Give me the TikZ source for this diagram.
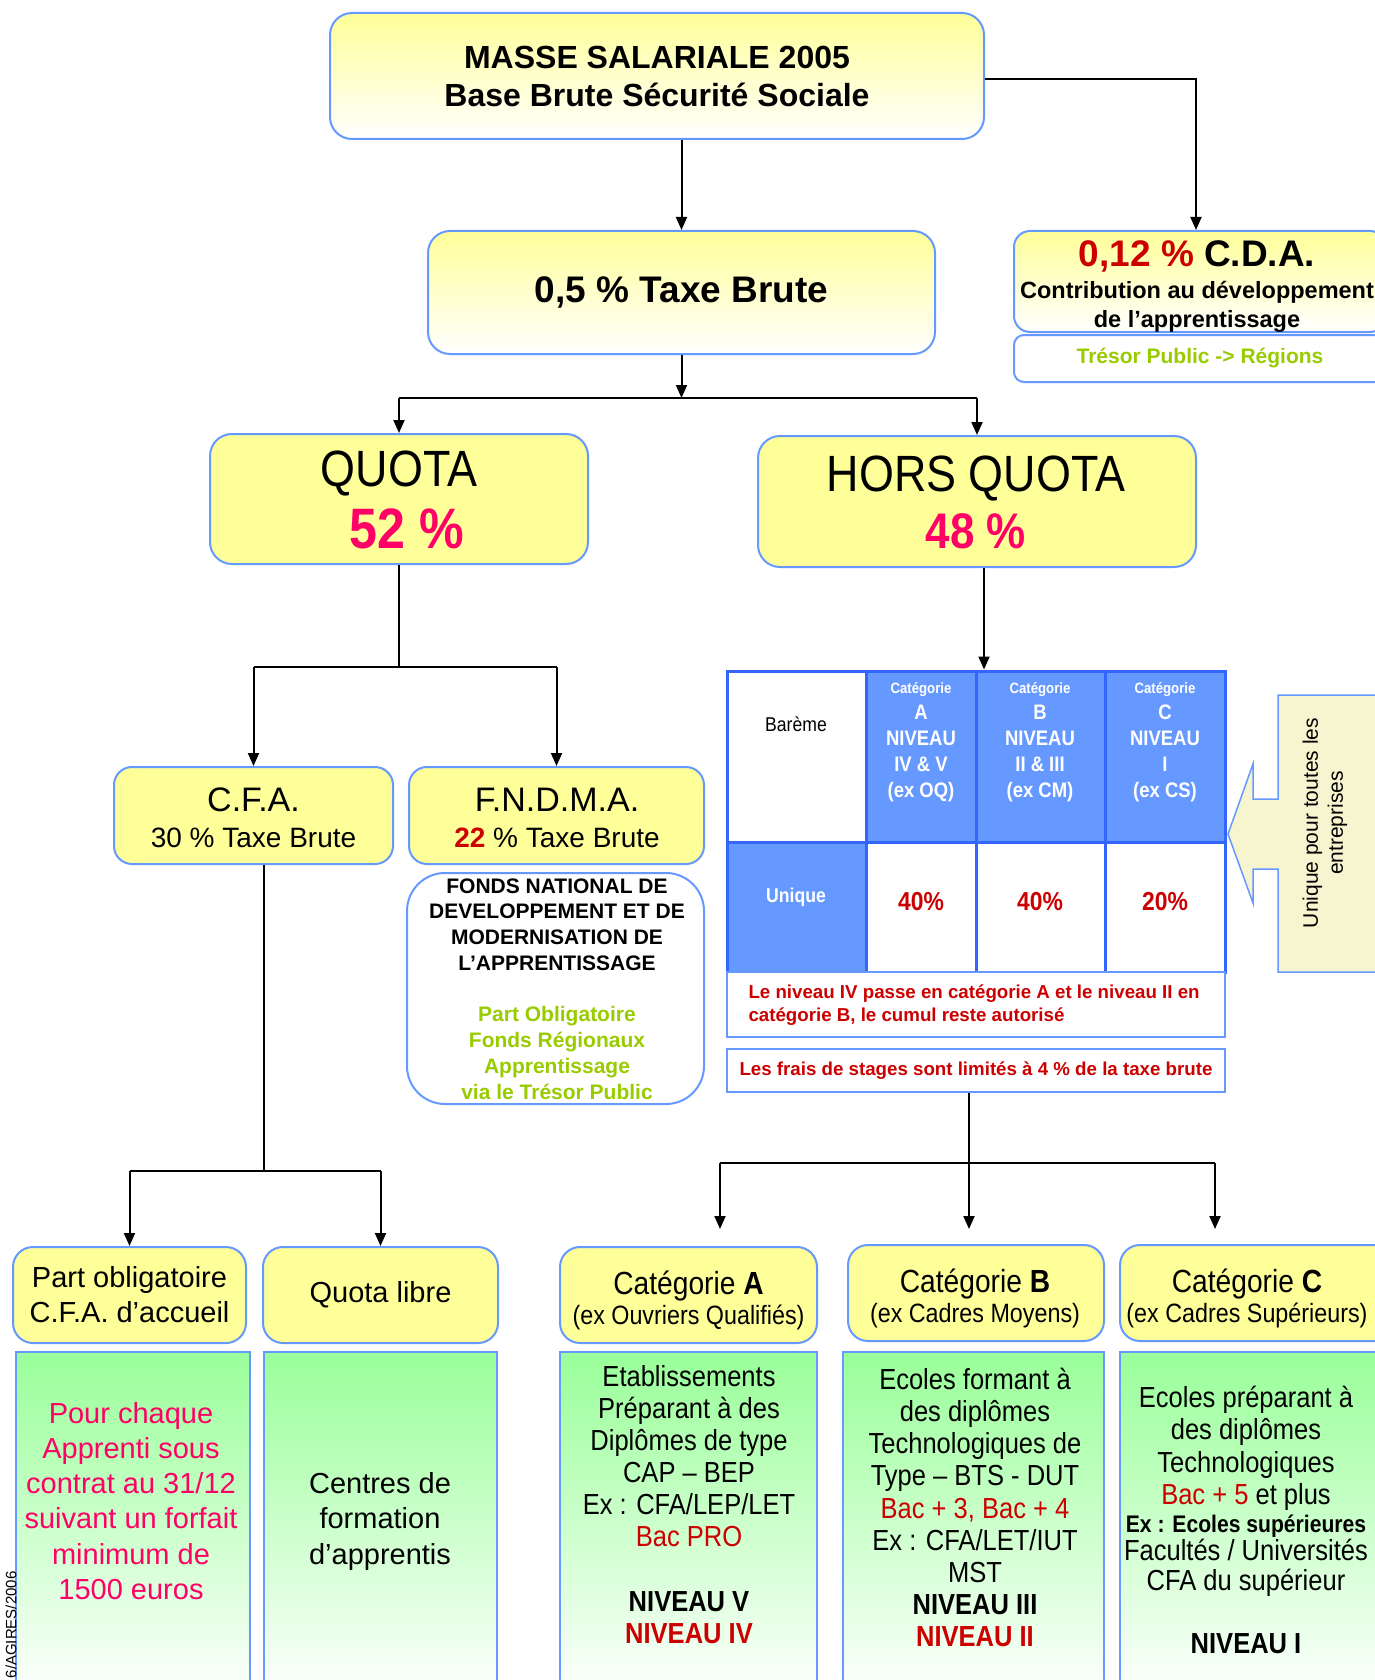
\documentclass[tikz,border=0pt]{standalone}
\usepackage{fontspec}
\setmainfont{Liberation Sans}
\newfontfamily\nar[FakeStretch=0.88]{Liberation Sans}
\usetikzlibrary{arrows.meta}
\definecolor{yel}{HTML}{FFFF99}
\definecolor{bblue}{HTML}{6699FF}
\definecolor{tline}{HTML}{3366FF}
\definecolor{tfill}{HTML}{6699FF}
\definecolor{dred}{HTML}{CC0000}
\definecolor{pink}{HTML}{FF0066}
\definecolor{lgreen}{HTML}{99CC00}
\definecolor{gfill}{HTML}{99FF99}
\definecolor{cream}{HTML}{F7F5D0}
\newcommand\fsz[2]{\fontsize{#1}{#2}\selectfont}
\begin{document}
\begin{tikzpicture}[x=1pt,y=-1pt,
  box/.style={draw=bblue, line width=2pt, inner sep=0pt},
  ybox/.style={box, fill=yel, rounded corners=20pt},
  sbox/.style={box, top color=yel, bottom color=white},
  gbox/.style={box, top color=gfill, middle color=gfill!40, bottom color=white, minimum height=348pt},
  tcell/.style={draw=tline, line width=3pt, inner sep=0pt},
  htxt/.style={align=center, text=white, font=\nar\bfseries\fsz{21}{26}},
  pct/.style={text=dred, font=\nar\bfseries\fsz{26}{30}},
  arr/.style={line width=2pt, -{Triangle[length=13pt,width=11pt]}},
  ln/.style={line width=2pt}]
\useasboundingbox (0,0) rectangle (1375,1680);
\fill[white] (0,0) rectangle (1375,1680);

% top row
\node[sbox, rounded corners=22pt, minimum width=654pt, minimum height=126pt, align=center, font=\bfseries\fsz{32}{38}] (top) at (657,76) {MASSE SALARIALE 2005\\Base Brute Sécurité Sociale};
\node[sbox, rounded corners=22pt, minimum width=507pt, minimum height=123pt, font=\bfseries\fsz{37}{44}] (taxe) at (681.5,292.5) {0,5 \% Taxe Brute};
\node[sbox, rounded corners=16pt, minimum width=372pt, minimum height=101pt] (cda) at (1200,281.5) {};
\node[align=center, font=\bfseries\fsz{23.5}{29}] (cdat) at (1197,287) {{\fsz{37}{29}\textcolor{dred}{0,12 \%} C.D.A.}\\[3pt]Contribution au développement\\de l’apprentissage};
\node[box, rounded corners=10pt, fill=white, minimum width=372pt, minimum height=47pt, text=lgreen, font=\bfseries\fsz{21}{25}] (tresor) at (1200,358.5) {Trésor Public -> Régions};

% quota / hors quota
\node[ybox, rounded corners=22pt, minimum width=378pt, minimum height=130pt] (quota) at (399,499) {};
\node[font=\nar\fsz{51}{60}] (quotat) at (399,474) {QUOTA};
\node[font=\nar\bfseries\fsz{57}{60}, text=pink] (quotap) at (407,529) {52 \%};
\node[ybox, rounded corners=22pt, minimum width=438pt, minimum height=131pt] (hq) at (977,501.5) {};
\node[font=\nar\fsz{51}{60}] (hqt) at (976,479) {HORS QUOTA};
\node[font=\nar\bfseries\fsz{50}{60}, text=pink] (hqp) at (976,531) {48 \%};

% CFA / FNDMA
\node[ybox, rounded corners=18pt, minimum width=279pt, minimum height=97pt] (cfa) at (253.5,815.5) {};
\node[align=center, font=\fsz{28}{36}] (cfat) at (253.5,818) {{\fsz{34}{36}C.F.A.}\\30 \% Taxe Brute};
\node[ybox, rounded corners=18pt, minimum width=295pt, minimum height=97pt] (fndma) at (556.5,815.5) {};
\node[align=center, font=\fsz{28}{36}] (fndmat) at (557,818) {{\fsz{34}{36}F.N.D.M.A.}\\\textcolor{dred}{\textbf{22}} \% Taxe Brute};
\node[box, rounded corners=38pt, fill=white, minimum width=297pt, minimum height=231pt] (desc) at (555.5,988.5) {};
\node[align=center, font=\bfseries\fsz{21}{25.75}] (desct) at (557,989) {FONDS NATIONAL DE\\DEVELOPPEMENT ET DE\\MODERNISATION DE\\L’APPRENTISSAGE\\\mbox{}\\\textcolor{lgreen}{Part Obligatoire}\\\textcolor{lgreen}{Fonds Régionaux}\\\textcolor{lgreen}{Apprentissage}\\\textcolor{lgreen}{via le Trésor Public}};

% table
\node[tcell, fill=white, minimum width=139pt, minimum height=171pt] (c11) at (796.5,756.5) {};
\node[tcell, fill=tfill, minimum width=110pt, minimum height=171pt] (c12) at (921,756.5) {};
\node[tcell, fill=tfill, minimum width=129pt, minimum height=171pt] (c13) at (1040.5,756.5) {};
\node[tcell, fill=tfill, minimum width=120pt, minimum height=171pt] (c14) at (1165,756.5) {};
\node[tcell, fill=tfill, minimum width=139pt, minimum height=130pt] (c21) at (796.5,907) {};
\node[tcell, fill=white, minimum width=110pt, minimum height=130pt] (c22) at (921,907) {};
\node[tcell, fill=white, minimum width=129pt, minimum height=130pt] (c23) at (1040.5,907) {};
\node[tcell, fill=white, minimum width=120pt, minimum height=130pt] (c24) at (1165,907) {};
\node[tcell, minimum width=498pt, minimum height=301pt] (tab) at (976,821.5) {};
\node[font=\nar\fsz{20}{24}] (bareme) at (796,724) {Barème};
\node[font=\nar\bfseries\fsz{20}{24}, text=white] (unique) at (796,897) {Unique};
\node[htxt] (hA) at (921,742) {{\fsz{15}{26}Catégorie}\\A\\NIVEAU\\IV \& V\\(ex OQ)};
\node[htxt] (hB) at (1040,742) {{\fsz{15}{26}Catégorie}\\B\\NIVEAU\\II \& III\\(ex CM)};
\node[htxt] (hC) at (1165,742) {{\fsz{15}{26}Catégorie}\\C\\NIVEAU\\I\\(ex CS)};
\node[pct] (pA) at (921,902) {40\%};
\node[pct] (pB) at (1040,902) {40\%};
\node[pct] (pC) at (1165,902) {20\%};

% notes
\node[box, fill=white, minimum width=498pt, minimum height=65pt] (note1) at (976,1004.5) {};
\node[anchor=west, align=left, text=dred, font=\bfseries\fsz{18.7}{23}] (note1t) at (745,1005.5) {Le niveau IV passe en catégorie A et le niveau II en\\catégorie B, le cumul reste autorisé};
\node[box, fill=white, minimum width=498pt, minimum height=43pt, text=dred, font=\bfseries\fsz{18.7}{23}] (note2) at (976,1070.5) {Les frais de stages sont limités à 4 \% de la taxe brute};

% side callout
\draw[draw=bblue, fill=cream, line width=1.5pt] (1395,695) -- (1278,695) -- (1278,799) -- (1253,799) -- (1253,764) -- (1228,834) -- (1253,903) -- (1253,869) -- (1278,869) -- (1278,972) -- (1395,972);
\node[rotate=90, align=center, font=\fsz{21}{25}] (sidet) at (1325,823) {Unique pour toutes les\\entreprises};

% bottom left
\node[ybox, minimum width=233pt, minimum height=96pt, align=center, font=\fsz{29}{35}] (pob) at (129.5,1295) {Part obligatoire\\C.F.A. d’accueil};
\node[ybox, minimum width=235pt, minimum height=96pt, font=\fsz{29}{35}] (qlib) at (380.5,1295) {Quota libre};
\node[gbox, minimum width=234pt] (g1) at (133,1526) {};
\node[align=center, text=pink, font=\fsz{29}{35.2}] (g1t) at (131,1501) {Pour chaque\\Apprenti sous\\contrat au 31/12\\suivant un forfait\\minimum de\\1500 euros};
\node[gbox, minimum width=233pt] (g2) at (380.5,1526) {};
\node[align=center, font=\fsz{29}{35.5}] (g2t) at (380,1521) {Centres de\\formation\\d’apprentis};

% categories
\node[ybox, minimum width=257pt, minimum height=96pt] (catA) at (688.5,1295) {};
\node[align=center, font=\nar\fsz{26.5}{30}] (catAt) at (688.5,1300) {{\fsz{32}{30}Catégorie \textbf{A}}\\(ex Ouvriers Qualifiés)};
\node[ybox, minimum width=256pt, minimum height=96pt] (catB) at (976,1293) {};
\node[align=center, font=\nar\fsz{26.5}{30}] (catBt) at (975,1298) {{\fsz{32}{30}Catégorie \textbf{B}}\\(ex Cadres Moyens)};
\node[ybox, minimum width=275pt, minimum height=96pt] (catC) at (1257.5,1293) {};
\node[align=center, font=\nar\fsz{26.5}{30}] (catCt) at (1247,1298) {{\fsz{32}{30}Catégorie \textbf{C}}\\(ex Cadres Supérieurs)};

\node[gbox, minimum width=257pt] (gA) at (688.5,1526) {};
\node[align=center, font=\nar\fsz{29}{32.1}] (gAt) at (689,1504.5) {Etablissements\\Préparant à des\\Diplômes de type\\CAP – BEP\\Ex : CFA/LEP/LET\\\textcolor{dred}{Bac PRO}\\\mbox{}\\\textbf{NIVEAU V}\\\textcolor{dred}{\textbf{NIVEAU IV}}};
\node[gbox, minimum width=261pt] (gB) at (973.5,1526) {};
\node[align=center, font=\nar\fsz{29}{32.1}] (gBt) at (975,1507.5) {Ecoles formant à\\des diplômes\\Technologiques de\\Type – BTS - DUT\\\textcolor{dred}{Bac + 3, Bac + 4}\\Ex : CFA/LET/IUT\\MST\\\textbf{NIVEAU III}\\\textcolor{dred}{\textbf{NIVEAU II}}};
\node[gbox, minimum width=275pt] (gC) at (1257.5,1526) {};
\node[align=center, font=\nar\fsz{29}{32.3}] (gCt) at (1246,1520) {Ecoles préparant à\\des diplômes\\Technologiques\\\textcolor{dred}{Bac + 5} et plus\\[-4.3pt]{\fsz{24}{32.3}\bfseries Ex : Ecoles supérieures}\\[-4.3pt]Facultés / Universités\\[-2.3pt]CFA du supérieur\\[31pt]\textbf{NIVEAU I}};

\node[rotate=90, anchor=east, font=\fsz{15}{18}] (copy) at (11,1568) {6/AGIRES/2006};

% connectors
\coordinate (j1) at (681.5,398);
\coordinate (j2) at (399,667);
\coordinate (j3) at (264,1171);
\coordinate (j4) at (969,1163);
\coordinate (j4a) at (720,1163);
\coordinate (j4c) at (1215,1163);
\draw[arr] ([yshift=-3pt]top.east) -| ([xshift=-4pt]cda.north);
\draw[arr] (taxe.north |- top.south) -- (taxe.north);
\draw[arr] (taxe.south) -- (j1);
\draw[ln] (quota.north |- j1) -- (hq.north |- j1);
\draw[arr] (quota.north |- j1) -- (quota.north);
\draw[arr] (hq.north |- j1) -- (hq.north);
\draw[ln] (quota.south) -- (j2);
\draw[ln] (cfa.north |- j2) -- (fndma.north |- j2);
\draw[arr] (cfa.north |- j2) -- (cfa.north);
\draw[arr] (fndma.north |- j2) -- (fndma.north);
\draw[arr] ([xshift=7pt]hq.south) -- ([xshift=7pt]hq.south |- tab.north);
\draw[ln] (j3 |- cfa.south) -- (j3);
\draw[ln] (pob.north |- j3) -- (qlib.north |- j3);
\draw[arr] (pob.north |- j3) -- (pob.north);
\draw[arr] (qlib.north |- j3) -- (qlib.north);
\draw[ln] (j4 |- note2.south) -- (j4);
\draw[ln] (j4a) -- (j4c);
\draw[arr, shorten >=15pt] (j4) -- (j4 |- catB.north);
\draw[arr, shorten >=17pt] (j4a) -- (j4a |- catA.north);
\draw[arr, shorten >=15pt] (j4c) -- (j4c |- catC.north);
\end{tikzpicture}
\end{document}
